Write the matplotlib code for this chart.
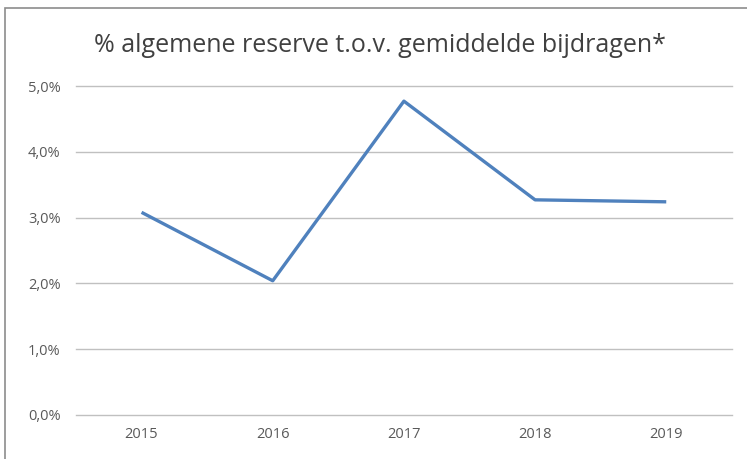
import matplotlib.pyplot as plt
from matplotlib.patches import Rectangle
from matplotlib.ticker import FuncFormatter

years = ['2015', '2016', '2017', '2018', '2019']
reserve_pct = [3.08, 2.04, 4.77, 3.27, 3.24]
y_ticks = [0, 1, 2, 3, 4, 5]

fig = plt.figure(figsize=(7.47, 4.59), dpi=100)
plt.rcParams['font.family'] = ['Open Sans', 'DejaVu Sans']

ax = fig.add_axes([0.1017, 0.0959, 0.878, 0.7167])
ax.plot(range(len(years)), reserve_pct, color='#4f81bd', linewidth=2.4,
        solid_capstyle='butt', zorder=3)

ax.set_xlim(-0.5, len(years) - 0.5)
ax.set_ylim(0, 5)
ax.set_yticks(y_ticks)
ax.yaxis.set_major_formatter(FuncFormatter(lambda v, p: f'{v:.1f}%'.replace('.', ',')))
ax.set_xticks(range(len(years)))
ax.set_xticklabels(years)
ax.grid(axis='y', color='#c0c0c0', linewidth=1, clip_on=False)
ax.set_axisbelow(True)
for s in ax.spines.values():
    s.set_visible(False)
ax.tick_params(length=0, labelsize=10.5, colors='#595959', pad=9)
ax.tick_params(axis='y', pad=11)

fig.text(0.508, 0.90, '% algemene reserve t.o.v. gemiddelde bijdragen*',
         ha='center', va='center', fontsize=18, color='#404040')

# chart frame (cropped at right and bottom)
fig.patches.append(Rectangle((5 / 747, -0.1), 1.2, 1 - 8 / 459 + 0.1,
                             transform=fig.transFigure, fill=False,
                             edgecolor='#8c8c8c', linewidth=1.2))

fig.savefig('out.png', dpi=100)
